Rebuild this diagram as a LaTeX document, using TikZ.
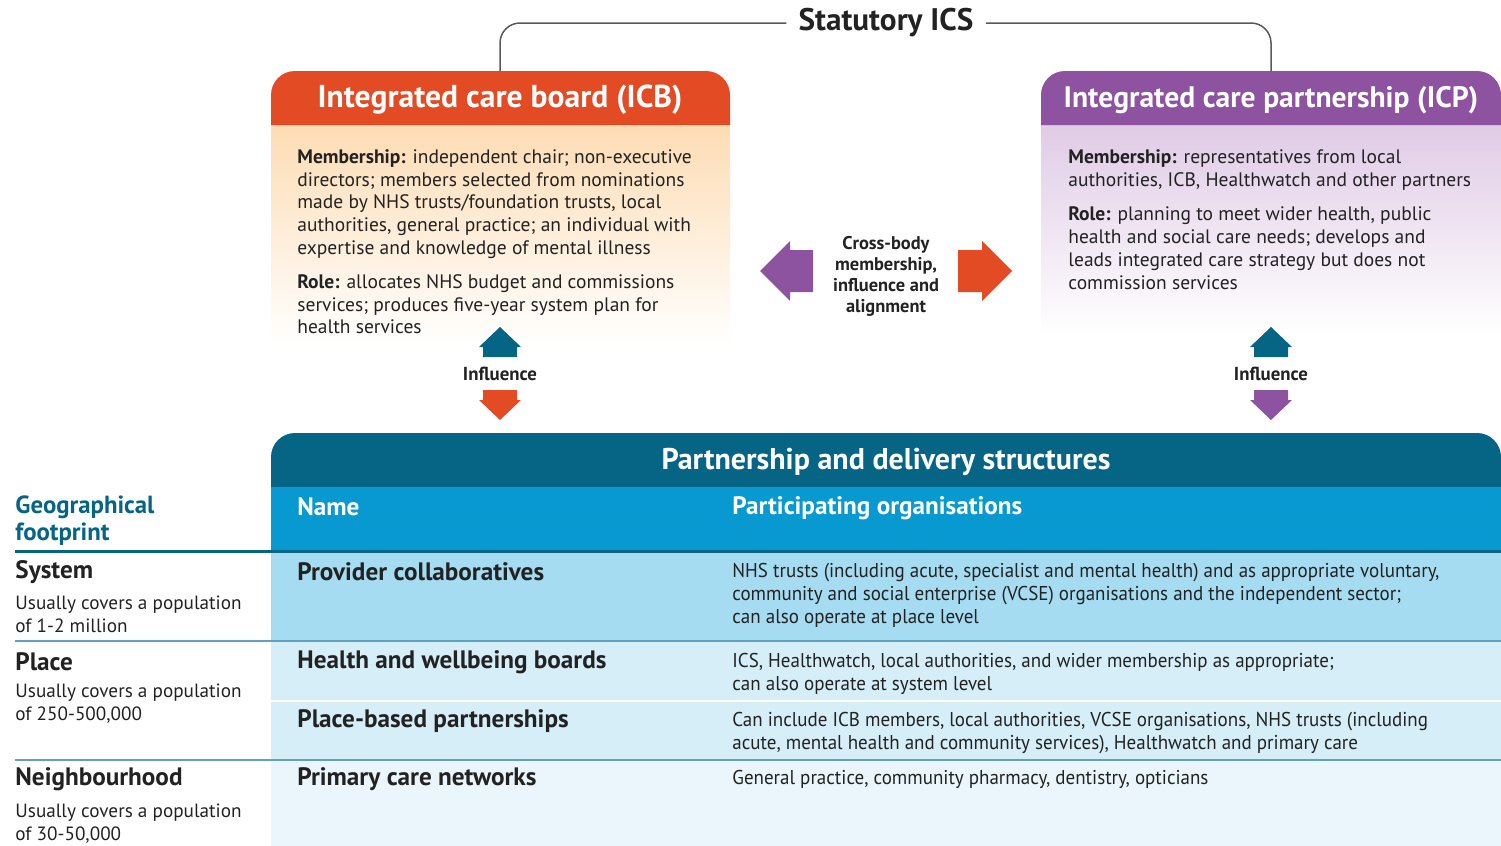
\documentclass[tikz,border=0pt]{standalone}
\usepackage{fontspec}
\setmainfont{PT Sans}
\newfontfamily\narrowfont[FakeStretch=0.95]{PT Sans}
\usetikzlibrary{positioning}

\definecolor{icbred}{HTML}{E24B24}
\definecolor{icbpeach}{HTML}{FDDCB3}
\definecolor{icppurple}{HTML}{8D53A0}
\definecolor{icplilac}{HTML}{E0CBE6}
\definecolor{tealdark}{HTML}{066485}
\definecolor{bluebright}{HTML}{0799D0}
\definecolor{rowone}{HTML}{A6DCF1}
\definecolor{rowtwo}{HTML}{D6EEF8}
\definecolor{rowfour}{HTML}{EAF6FC}
\definecolor{rulecol}{HTML}{5EA3BF}
\definecolor{inkgray}{HTML}{222222}

\begin{document}
\begin{tikzpicture}[x=0.5pt,y=-0.5pt,
    panelhead/.style={text=white,font=\bfseries\fontsize{15.3}{18}\selectfont},
    bodytext/.style={anchor=north west,inner sep=0pt,align=left,text=inkgray,
      font=\fontsize{9.75}{11.4}\selectfont},
    midtext/.style={align=center,inner sep=0pt,text=inkgray,
      font=\bfseries\fontsize{9.2}{10.5}\selectfont},
    influence/.style={inner sep=0pt,text=inkgray,font=\bfseries\fontsize{9.4}{11}\selectfont},
    colhead/.style={anchor=west,inner sep=0pt,text=white,font=\bfseries\fontsize{12.6}{14}\selectfont},
    rowname/.style={anchor=west,inner sep=0pt,text=inkgray,font=\bfseries\fontsize{12.6}{14}\selectfont},
    orgtext/.style={anchor=north west,inner sep=0pt,align=left,text=inkgray,
      font=\narrowfont\fontsize{10}{11.5}\selectfont},
    leveldesc/.style={anchor=north west,inner sep=0pt,align=left,text=inkgray,
      font=\fontsize{9.6}{11.5}\selectfont},
    link/.style={draw=black!65,line width=0.75pt,rounded corners=10pt}]

    \useasboundingbox (0,0) rectangle (1501,846);

    % Paneles ICB e ICP
    \shade[top color=icbpeach,bottom color=white] (271,124) rectangle (730,345);
    \fill[icbred] (271,125) [rounded corners=12pt] -- (271,71) -- (730,71) [sharp corners] -- (730,125) -- cycle;
    \shade[top color=icplilac,bottom color=white] (1041,124) rectangle (1501,335);
    \fill[icppurple] (1041,125) [rounded corners=12pt] -- (1041,71) -- (1501,71) [sharp corners] -- (1501,125) -- cycle;

    % Titulo superior
    \node[inner xsep=6pt,text=inkgray,font=\bfseries\fontsize{15.6}{18}\selectfont] (statutory) at (886,23) {Statutory ICS};
    \coordinate (icbtop) at (500,71);
    \coordinate (icptop) at (1271,71);
    \draw[link] (icbtop) |- (statutory.west);
    \draw[link] (statutory.east) -| (icptop);

    % Textos de los paneles
    \node[panelhead,font=\bfseries\fontsize{15.8}{18}\selectfont] (icbhead) at (500,100) {Integrated care board (ICB)};
    \node[panelhead,font=\bfseries\fontsize{14.8}{18}\selectfont] (icphead) at (1271,100) {Integrated care partnership (ICP)};
    \node[bodytext] (icbtext) at (297,149) {\textbf{Membership:} independent chair; non-executive\\
      directors; members selected from nominations\\
      made by NHS trusts/foundation trusts, local\\
      authorities, general practice; an individual with\\
      expertise and knowledge of mental illness\\[5.5pt]
      \textbf{Role:} allocates NHS budget and commissions\\
      services; produces five-year system plan for\\
      health services};
    \node[bodytext] (icptext) at (1068,149) {\textbf{Membership:} representatives from local\\
      authorities, ICB, Healthwatch and other partners\\[6pt]
      \textbf{Role:} planning to meet wider health, public\\
      health and social care needs; develops and\\
      leads integrated care strategy but does not\\
      commission services};

    % Flechas centrales
    \fill[icppurple] (760,271) -- (790,241) -- (790,250) -- (813,250) -- (813,292) -- (790,292) -- (790,301) -- cycle;
    \fill[icbred] (1012,271) -- (982,241) -- (982,250) -- (958,250) -- (958,292) -- (982,292) -- (982,301) -- cycle;
    \node[midtext] (cross) at (886,276) {Cross-body\\membership,\\influence and\\alignment};

    % Flechas de influencia
    \fill[tealdark,shift={(500,0)}] (0,327) -- (21,347) -- (17,347) -- (17,357) -- (-17,357) -- (-17,347) -- (-21,347) -- cycle;
    \fill[icbred,shift={(500,0)}] (0,420) -- (21,400) -- (17,400) -- (17,390) -- (-17,390) -- (-17,400) -- (-21,400) -- cycle;
    \fill[tealdark,shift={(1271,0)}] (0,327) -- (21,347) -- (17,347) -- (17,357) -- (-17,357) -- (-17,347) -- (-21,347) -- cycle;
    \fill[icppurple,shift={(1271,0)}] (0,420) -- (21,400) -- (17,400) -- (17,390) -- (-17,390) -- (-17,400) -- (-21,400) -- cycle;
    \node[influence] (inflleft) at (500,374) {Influence};
    \node[influence] (inflright) at (1271,374) {Influence};

    % Tabla
    \fill[tealdark] (271,488) [rounded corners=12pt] -- (271,433) -- (1501,433) [sharp corners] -- (1501,488) -- cycle;
    \fill[bluebright] (271,487) rectangle (1501,551);
    \fill[rowone] (271,551) rectangle (1501,641);
    \fill[rowtwo] (271,641) rectangle (1501,760);
    \fill[rowfour] (271,760) rectangle (1501,846);
    \draw[white,line width=1pt] (271,701) -- (1501,701);
    \draw[rulecol,line width=1pt] (15,641) -- (1501,641);
    \draw[rulecol,line width=1pt] (15,760) -- (1501,760);
    \draw[tealdark,line width=1.5pt] (15,551) -- (1501,551);

    \node[panelhead,font=\bfseries\fontsize{15}{17}\selectfont] (tabletitle) at (886,462) {Partnership and delivery structures};
    \node[colhead] (namehead) at (297,507) {Name};
    \node[colhead] (orghead) at (732,508) {Participating organisations};
    \node[anchor=north west,inner sep=0pt,align=left,text=tealdark,
      font=\bfseries\fontsize{12.4}{13.5}\selectfont] (geohead) at (15,495) {Geographical\\footprint};

    % Filas
    \node[rowname] (system) at (15,572) {System};
    \node[leveldesc,below=6pt of system.south west,anchor=north west] (systemdesc) {Usually covers a population\\of 1-2 million};
    \node[rowname] (place) at (15,662) {Place};
    \node[leveldesc,below=6pt of place.south west,anchor=north west] (placedesc) {Usually covers a population\\of 250-500,000};
    \node[rowname] (neighbourhood) at (15,779) {Neighbourhood};
    \node[leveldesc,below=6pt of neighbourhood.south west,anchor=north west] (neighdesc) {Usually covers a population\\of 30-50,000};

    \node[rowname] (provider) at (297,572) {Provider collaboratives};
    \node[rowname] (hwb) at (297,662) {Health and wellbeing boards};
    \node[rowname] (placebased) at (297,721) {Place-based partnerships};
    \node[rowname] (pcn) at (297,779) {Primary care networks};

    \node[orgtext] (providerorgs) at (732,563) {NHS trusts (including acute, specialist and mental health) and as appropriate voluntary,\\
      community and social enterprise (VCSE) organisations and the independent sector;\\
      can also operate at place level};
    \node[orgtext] (hwborgs) at (732,653) {ICS, Healthwatch, local authorities, and wider membership as appropriate;\\
      can also operate at system level};
    \node[orgtext] (placebasedorgs) at (732,712) {Can include ICB members, local authorities, VCSE organisations, NHS trusts (including\\
      acute, mental health and community services), Healthwatch and primary care};
    \node[orgtext] (pcnorgs) at (732,770) {General practice, community pharmacy, dentistry, opticians};
\end{tikzpicture}
\end{document}
